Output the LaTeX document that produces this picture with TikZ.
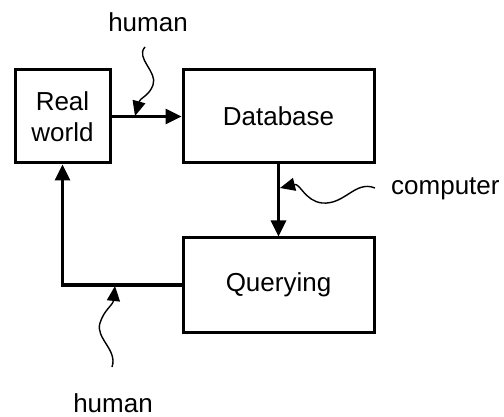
\documentclass[tikz,border=0pt]{standalone}
\usepackage{fontspec}
\setmainfont{Liberation Sans}
\usetikzlibrary{arrows.meta}
\begin{document}
\begin{tikzpicture}[x=1pt,y=-1pt,
  box/.style={draw,line width=3pt,inner sep=0pt,align=center,font=\fontsize{26}{31}\selectfont},
  lbl/.style={font=\fontsize{26}{31}\selectfont,inner sep=0pt},
  flow/.style={line width=3pt,-{Triangle[length=16pt,width=15pt]}},
  wave/.style={line width=1.4pt,-{Triangle[length=15pt,width=13pt]}}]
\useasboundingbox (0,0) rectangle (504,417);
\node[box,minimum width=95pt,minimum height=93pt] (real) at (62.5,116.5) {Real\\world};
\node[box,minimum width=191pt,minimum height=93pt] (db) at (278.5,116.5) {Database};
\node[box,minimum width=191pt,minimum height=94pt] (query) at (278.5,285) {Querying};
\node[lbl] (h1) at (148,22) {human};
\node[lbl,anchor=west] (comp) at (391,189) {computer};
\node[lbl] (h2) at (113,403) {human};
\draw[flow] (real.east) -- (db.west);
\draw[flow] (db.south) -- (query.north);
\draw[flow] (query.west) -| (real.south);
\coordinate (w1) at (145,47);
\coordinate (t1) at (135,116);
\coordinate (w2) at (375,188);
\coordinate (t2) at (280,188);
\coordinate (w3) at (112,367);
\coordinate (t3) at (115,286);
\draw[wave] (w1) .. controls (135,58) and (158,72) .. (153,85) .. controls (149,96) and (140,98) .. (t1);
\draw[wave] (w2) .. controls (355,180) and (345,205) .. (322,203) .. controls (305,201) and (300,183) .. (t2);
\draw[wave] (w3) .. controls (118,350) and (95,338) .. (100,323) .. controls (104,310) and (113,305) .. (t3);
\end{tikzpicture}
\end{document}
